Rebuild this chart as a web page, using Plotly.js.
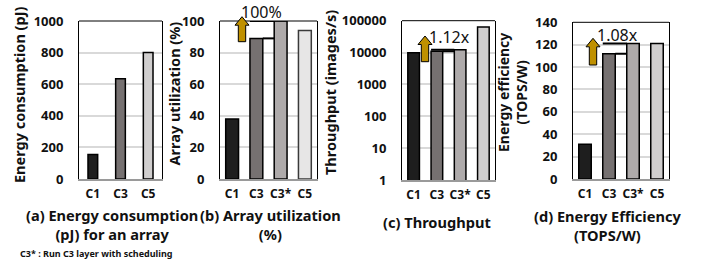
<!DOCTYPE html>
<html>
<head>
<meta charset="utf-8">
<script src="https://cdn.plot.ly/plotly-3.0.1.min.js"></script>
<style>html,body{margin:0;padding:0;background:#fff;}#chart{width:708px;height:264px;}</style>
</head>
<body>
<div id="chart"></div>
<script>
// ---- data ----
const cats3 = ['C1', 'C3', 'C5'];
const cats4 = ['C1', 'C3', 'C3*', 'C5'];
const energyPJ = [155, 635, 800];
const utilizationPct = [38, 89, 100, 94];
const throughputImgs = [9800, 11000, 12300, 63000];
const efficiencyTOPSW = [31, 112, 121, 121];
const logTickVals = [1, 10, 100, 1000, 10000, 100000];
const logTickText = ['1', '10', '100', '1000', '10000', '100000'];
const colors3 = ['#1e1e1e', '#767171', '#d0cece'];
const colors4 = ['#1e1e1e', '#767171', '#aeaaaa', '#d0cece'];
const colors4b = ['#1e1e1e', '#767171', '#aeaaaa', '#e7e6e6'];

// ---- layout helpers ----
const W = 708, H = 264;
const PX = x => x / W;
const PY = y => 1 - y / H;
const FONT = 'Noto Sans, Open Sans, sans-serif';
const txt = '#111';

function bar(x, y, colors, width, xa, ya, lineColors) {
  return {
    type: 'bar', x: x, y: y, width: width, xaxis: xa, yaxis: ya,
    marker: {color: colors, line: {color: lineColors || '#000', width: 1.5}},
    hoverinfo: 'skip'
  };
}
const bw = [0.35, 0.53, 0.5, 0.52];
const traces = [
  bar(cats3, energyPJ, colors3, bw[0], 'x', 'y'),
  bar(cats4, utilizationPct, colors4b, bw[1], 'x2', 'y2', ['#000', '#000', '#000', '#3a3a3a']),
  bar(cats4, throughputImgs, colors4, bw[2], 'x3', 'y3'),
  bar(cats4, efficiencyTOPSW, colors4, bw[3], 'x4', 'y4')
];

function xax(dom, anchor) {
  return {
    domain: dom, anchor: anchor, type: 'category', fixedrange: true,
    showline: true, linecolor: '#9a9a9a', linewidth: 2, ticks: '',
    showgrid: false, ticklabelstandoff: 3,
    tickfont: {family: FONT, size: 12, color: txt, weight: 'bold'}
  };
}
function yax(dom, anchor, range, dtick, extra) {
  return Object.assign({
    domain: dom, anchor: anchor, range: range, dtick: dtick, fixedrange: true,
    showline: true, mirror: true, linecolor: '#000', linewidth: 1,
    showgrid: true, gridcolor: '#d9d9d9', gridwidth: 2, zeroline: false, ticks: '',
    ticklabelstandoff: 12,
    tickfont: {family: FONT, size: 13, color: txt, weight: 'bold'}
  }, extra || {});
}

const xd = [[PX(79), PX(162)], [PX(220), PX(317)], [PX(402), PX(495)], [PX(573), PX(669)]];
const yd = [[PY(179), PY(21)], [PY(179), PY(21)], [PY(180), PY(20.7)], [PY(179), PY(22.3)]];

const layout = {
  width: W, height: H, margin: {l: 0, r: 0, t: 0, b: 0},
  paper_bgcolor: '#fff', plot_bgcolor: '#fff', showlegend: false,
  font: {family: FONT, color: txt},
  xaxis: xax(xd[0], 'y'), yaxis: yax(yd[0], 'x', [0, 1000], 200),
  xaxis2: xax(xd[1], 'y2'), yaxis2: yax(yd[1], 'x2', [0, 100], 20),
  xaxis3: xax(xd[2], 'y3'), yaxis3: yax(yd[2], 'x3', [0, 5], null, {type: 'log', tickvals: logTickVals, ticktext: logTickText}),
  xaxis4: xax(xd[3], 'y4'), yaxis4: yax(yd[3], 'x4', [0, 140], 20),
  shapes: [], annotations: []
};

// top border black on each panel
['', '2', '3', '4'].forEach(s => {
  layout.shapes.push({type: 'line', xref: 'x' + s + ' domain', yref: 'y' + s + ' domain',
    x0: 0, x1: 1, y0: 1, y1: 1, line: {color: '#000', width: 1}});
});

// bracket lines between C3 and C3* (tied to data; shapes take data values on log axes)
function bracket(s, vals, w) {
  const v3 = vals[1], v3s = vals[2];
  layout.shapes.push({type: 'line', xref: 'x' + s, yref: 'y' + s,
    x0: 1 - w / 2, x1: 2 - w / 2, y0: v3s, y1: v3s, line: {color: '#000', width: 2}});
  layout.shapes.push({type: 'line', xref: 'x' + s, yref: 'y' + s,
    x0: 1 + w / 2, x1: 2 - w / 2, y0: v3, y1: v3, line: {color: '#000', width: 2}});
}
bracket('2', utilizationPct, bw[1]);
bracket('3', throughputImgs, bw[2]);
bracket('4', efficiencyTOPSW, bw[3]);

// gold block arrows
function arrow(cx, top, bottom) {
  const hw = 7, sw = 3.7, hh = 8.5;
  const pts = [[cx - sw, bottom], [cx - sw, top + hh], [cx - hw, top + hh], [cx, top],
               [cx + hw, top + hh], [cx + sw, top + hh], [cx + sw, bottom]];
  const path = 'M' + pts.map(p => PX(p[0]) + ',' + PY(p[1])).join(' L') + ' Z';
  layout.shapes.push({type: 'path', xref: 'paper', yref: 'paper', path: path,
    fillcolor: '#bf9000', line: {color: '#000', width: 1}});
}
arrow(242, 16.7, 41.7);
arrow(425, 36, 61.7);
arrow(593, 38.3, 65);

function ann(text, x, y, size, bold, extra) {
  layout.annotations.push(Object.assign({
    text: text, xref: 'paper', yref: 'paper', x: PX(x), y: PY(y),
    xanchor: 'center', yanchor: 'middle', showarrow: false,
    font: {family: FONT, size: size, color: txt, weight: bold ? 'bold' : 'normal'}
  }, extra || {}));
}
// ratio labels
ann('100%', 261, 11.7, 16, false);
ann('1.12x', 449, 37, 16, false);
ann('1.08x', 617, 35, 16, false);

// axis titles
ann('Energy consumption (pJ)', 19, 95, 14.5, true, {textangle: -90});
ann('Array utilization (%)', 173.5, 94, 14.5, true, {textangle: -90});
ann('Throughput (images/s)', 330, 93, 14.5, true, {textangle: -90});
ann('Energy efficiency<br>(TOPS/W)', 512, 93, 14, true, {textangle: -90});

// panel captions
ann('(a) Energy consumption<br>(pJ) for an array', 112, 224, 14.6, true);
ann('(b) Array utilization<br>(%)', 270, 224, 14.6, true);
ann('(c) Throughput', 437, 222, 14.6, true);
ann('(d) Energy Efficiency<br>(TOPS/W)', 607, 225, 14.6, true);

// footnote
layout.annotations.push({text: 'C3* : Run C3 layer with scheduling', xref: 'paper', yref: 'paper',
  x: PX(18), y: PY(253), xanchor: 'left', yanchor: 'middle', showarrow: false,
  font: {family: FONT, size: 9, color: txt, weight: 'bold'}});

Plotly.newPlot('chart', traces, layout, {staticPlot: true, displayModeBar: false});
</script>
</body>
</html>
